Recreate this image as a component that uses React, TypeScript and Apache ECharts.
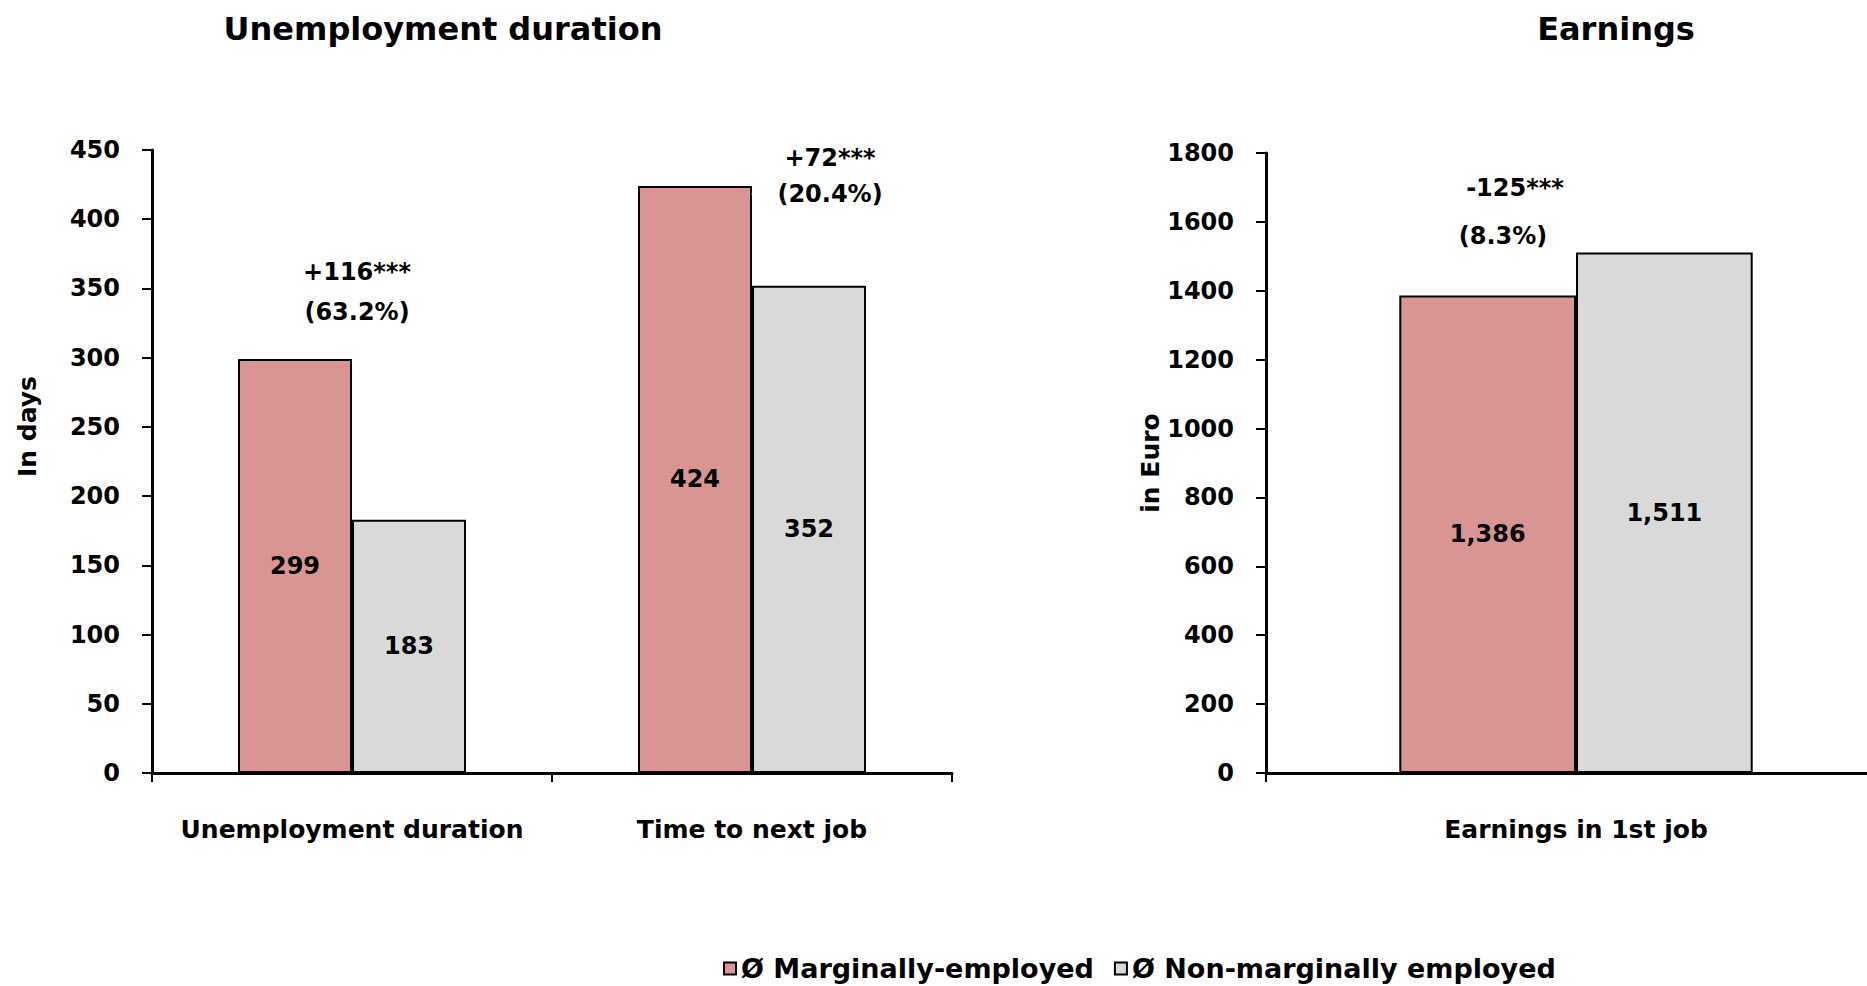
import React, { useEffect, useRef } from "react";
import * as echarts from "echarts";

const leftCategories = ["Unemployment duration", "Time to next job"];
const rightCategories = ["Earnings in 1st job"];
const seriesNames = ["Ø Marginally-employed", "Ø Non-marginally employed"];
const leftMarginal = [299, 424];
const leftNonMarginal = [183, 352];
const rightMarginal = [1386];
const rightNonMarginal = [1511];
const leftTicks = { min: 0, max: 450, interval: 50 };
const rightTicks = { min: 0, max: 1800, interval: 200 };
// annotation lines: [categoryIndex, value, text, xOffset]
const leftNotes: [number, number, string, number][] = [
  [0, 362, "+116***", 5],
  [0, 333, "(63.2%)", 5],
  [1, 444, "+72***", 78],
  [1, 418, "(20.4%)", 78],
];
const rightNotes: [number, number, string, number][] = [
  [0, 1698, "-125***", -61],
  [0, 1559, "(8.3%)", -73],
];

const FONT = "'DejaVu Sans', sans-serif";
const RED = "#D99594";
const GREY = "#D9D9D9";

export default function App() {
  const ref = useRef<HTMLDivElement>(null);
  useEffect(() => {
    document.body.style.margin = "0";
    if (!ref.current) return;
    const chart = echarts.init(ref.current, undefined, { renderer: "svg" });
    const labelStyle = { fontFamily: FONT, fontWeight: "bold" as const, color: "#000" };
    const axisCommonX = {
      type: "category" as const,
      axisLine: { lineStyle: { color: "#000", width: 3 } },
      axisTick: { show: true, length: 9, lineStyle: { color: "#000", width: 2 } },
      axisLabel: { ...labelStyle, fontSize: 25, margin: 44, interval: 0 },
      splitLine: { show: false },
    };
    const axisCommonY = {
      type: "value" as const,
      axisLine: { show: true, lineStyle: { color: "#000", width: 3 } },
      axisTick: { show: true, length: 10, lineStyle: { color: "#000", width: 2 } },
      axisLabel: { ...labelStyle, fontSize: 24, margin: 32, formatter: (v: number) => String(v) },
      splitLine: { show: false },
      nameLocation: "middle" as const,
    };
    const barBase = {
      type: "bar" as const,
      barGap: "0%",
      barCategoryGap: "43%",
      label: { show: true, position: "inside" as const, ...labelStyle, fontSize: 24 },
    };
    const rightBarLabel = {
      ...barBase.label,
      formatter: (p: any) => Number(p.value).toLocaleString("en-US"),
    };
    const noteSeries = (notes: [number, number, string, number][], idx: number) => ({
      type: "scatter" as const,
      xAxisIndex: idx,
      yAxisIndex: idx,
      symbolSize: 1,
      itemStyle: { color: "#ffffff", opacity: 1 },
      silent: true,
      data: notes.map((n) => ({
        value: [n[0], n[1]],
        label: {
          show: true,
          position: "inside" as const,
          formatter: n[2],
          offset: [n[3], 0],
          ...labelStyle,
          color: "#000",
          textBorderWidth: 0,
          fontSize: 24,
        },
      })),
    });
    chart.setOption({
      animation: false,
      title: [
        {
          text: "Unemployment duration",
          left: 438,
          top: 8,
          textAlign: "center",
          textStyle: { ...labelStyle, fontSize: 32 },
        },
        {
          text: "Earnings",
          left: 1611,
          top: 8,
          textAlign: "center",
          textStyle: { ...labelStyle, fontSize: 32 },
        },
      ],
      legend: {
        left: 718,
        top: 950,
        itemWidth: 12,
        itemHeight: 12,
        itemGap: 20,
        icon: "rect",
        itemStyle: { borderColor: "#000", borderWidth: 2 },
        textStyle: { ...labelStyle, fontSize: 27 },
        data: seriesNames,
      },
      grid: [
        { left: 152, width: 800, top: 150, bottom: 986 - 773, outerBoundsMode: "none" },
        { left: 1266, width: 620, top: 153, bottom: 986 - 773, outerBoundsMode: "none" },
      ],
      xAxis: [
        { ...axisCommonX, gridIndex: 0, data: leftCategories },
        { ...axisCommonX, gridIndex: 1, data: rightCategories },
      ],
      yAxis: [
        {
          ...axisCommonY,
          gridIndex: 0,
          ...leftTicks,
          name: "In days",
          nameGap: 112,
          nameTextStyle: { ...labelStyle, fontSize: 25, padding: [0, 0, 0, 70] },
        },
        {
          ...axisCommonY,
          gridIndex: 1,
          ...rightTicks,
          name: "in Euro",
          nameGap: 88,
          nameTextStyle: { ...labelStyle, fontSize: 25 },
        },
      ],
      series: [
        {
          ...barBase,
          name: seriesNames[0],
          xAxisIndex: 0,
          yAxisIndex: 0,
          data: leftMarginal,
          itemStyle: { color: RED, borderColor: "#000", borderWidth: 2 },
        },
        {
          ...barBase,
          name: seriesNames[1],
          xAxisIndex: 0,
          yAxisIndex: 0,
          data: leftNonMarginal,
          itemStyle: { color: GREY, borderColor: "#000", borderWidth: 2 },
        },
        {
          ...barBase,
          name: seriesNames[0],
          xAxisIndex: 1,
          yAxisIndex: 1,
          data: rightMarginal,
          itemStyle: { color: RED, borderColor: "#000", borderWidth: 2 },
          label: rightBarLabel,
        },
        {
          ...barBase,
          name: seriesNames[1],
          xAxisIndex: 1,
          yAxisIndex: 1,
          data: rightNonMarginal,
          itemStyle: { color: GREY, borderColor: "#000", borderWidth: 2 },
          label: rightBarLabel,
        },
        noteSeries(leftNotes, 0),
        noteSeries(rightNotes, 1),
      ],
    });
    return () => chart.dispose();
  }, []);
  return <div ref={ref} style={{ width: 1867, height: 986 }} />;
}
